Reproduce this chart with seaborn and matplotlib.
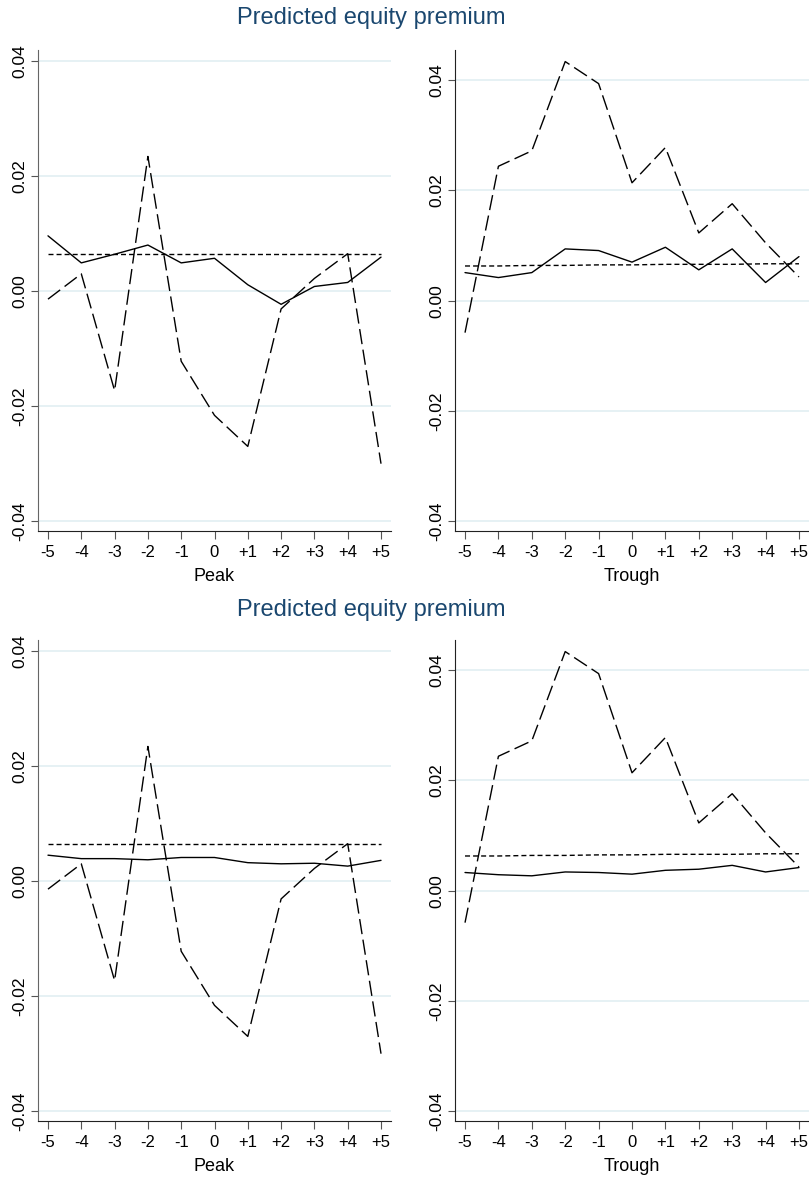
import numpy as np
import pandas as pd
import matplotlib
matplotlib.use('Agg')
import matplotlib.pyplot as plt
import seaborn as sns

# -----------------------------
# DATA
# -----------------------------
x_pos = [-5, -4, -3, -2, -1, 0, 1, 2, 3, 4, 5]
x_labels = ['-5', '-4', '-3', '-2', '-1', '0', '+1', '+2', '+3', '+4', '+5']
y_ticks = [-0.04, -0.02, 0.00, 0.02, 0.04]
y_labels = ['-0.04', '-0.02', '0.00', '0.02', '0.04']

peak_dash = [-0.0014, 0.0030, -0.0173, 0.0234, -0.0122, -0.0216, -0.0270, -0.0031, 0.0022, 0.0065, -0.0300]
peak_flat = [0.0065, 0.0065, 0.0065, 0.0065, 0.0065, 0.0065, 0.0065, 0.0065, 0.0065, 0.0065, 0.0065]
peak_solid_top = [0.0096, 0.0049, 0.0064, 0.0080, 0.0049, 0.0057, 0.0011, -0.0023, 0.0008, 0.0015, 0.0059]
peak_solid_bottom = [0.0045, 0.0039, 0.0039, 0.0037, 0.0041, 0.0041, 0.0032, 0.0030, 0.0031, 0.0026, 0.0036]

trough_dash = [-0.0058, 0.0244, 0.0272, 0.0434, 0.0394, 0.0214, 0.0278, 0.0123, 0.0176, 0.0105, 0.0043]
trough_flat = [0.0063, 0.0063, 0.0064, 0.0064, 0.0065, 0.0065, 0.0066, 0.0066, 0.0066, 0.0067, 0.0067]
trough_solid_top = [0.0051, 0.0042, 0.0051, 0.0094, 0.0091, 0.0070, 0.0097, 0.0056, 0.0094, 0.0033, 0.0080]
trough_solid_bottom = [0.0033, 0.0029, 0.0027, 0.0034, 0.0033, 0.0030, 0.0037, 0.0039, 0.0046, 0.0034, 0.0042]

title_text = 'Predicted equity premium'

# -----------------------------
# STYLE
# -----------------------------
sns.set_style('white')
plt.rcParams['font.family'] = ['Liberation Sans', 'DejaVu Sans']
plt.rcParams['text.color'] = 'black'
plt.rcParams['xtick.color'] = 'black'
plt.rcParams['ytick.color'] = 'black'
plt.rcParams['axes.labelcolor'] = 'black'

W, H = 809, 1180
fig = plt.figure(figsize=(W / 100, H / 100), dpi=100)

title_color = '#1a476f'
grid_color = '#e2eff2'
dash_map = {'solid': '', 'long': (11, 4), 'short': (3.6, 2.2)}


def make_frame(solid, long_dash, short_dash):
    rows = []
    for name, vals in [('solid', solid), ('long', long_dash), ('short', short_dash)]:
        for xp, v in zip(x_pos, vals):
            rows.append({'pos': xp, 'value': v, 'series': name})
    return pd.DataFrame(rows)


def draw_panel(rect, df, xlabel, ylim, left_col):
    l, t, r, b = rect
    ax = fig.add_axes([l / W, 1 - b / H, (r - l) / W, (b - t) / H])
    sns.lineplot(data=df, x='pos', y='value', style='series', dashes=dash_map,
                 color='black', linewidth=1.0, legend=False, ax=ax,
                 style_order=['solid', 'long', 'short'])
    ax.set_xlim(-5.3, 5.3)
    ax.set_ylim(*ylim)
    ax.set_xticks(x_pos)
    ax.set_xticklabels(x_labels, fontsize=12)
    ax.set_yticks(y_ticks)
    ax.set_yticklabels(y_labels, fontsize=12.5, rotation=90, va='center')
    for yt in y_ticks:
        ax.axhline(yt, color=grid_color, linewidth=1.2, zorder=0)
    ax.set_xlabel(xlabel, fontsize=13, labelpad=6)
    ax.set_ylabel('')
    sns.despine(ax=ax)
    ax.spines['left'].set_color(left_col)
    ax.spines['bottom'].set_color('#222222')
    ax.tick_params(axis='x', direction='out', length=6, width=0.8,
                   color='#555555', bottom=True, pad=4)
    ax.tick_params(axis='y', direction='out', length=5, width=0.8,
                   color='#555555', left=True, pad=3)
    return ax


peak_lim = (-0.0417, 0.0419)
trough_lim = (-0.0418, 0.0455)

# top row
draw_panel((38, 50, 391, 531), make_frame(peak_solid_top, peak_dash, peak_flat), 'Peak', peak_lim, '#666666')
draw_panel((455, 50, 809, 531), make_frame(trough_solid_top, trough_dash, trough_flat), 'Trough', trough_lim, '#222222')
fig.text(371 / W, 1 - 18 / H, title_text, color=title_color, fontsize=17, ha='center', va='center')

# bottom row
draw_panel((38, 640, 391, 1121), make_frame(peak_solid_bottom, peak_dash, peak_flat), 'Peak', peak_lim, '#666666')
draw_panel((455, 640, 809, 1121), make_frame(trough_solid_bottom, trough_dash, trough_flat), 'Trough', trough_lim, '#222222')
fig.text(371 / W, 1 - 610 / H, title_text, color=title_color, fontsize=17, ha='center', va='center')

fig.savefig('out.png', dpi=100, facecolor='white')
plt.close(fig)
